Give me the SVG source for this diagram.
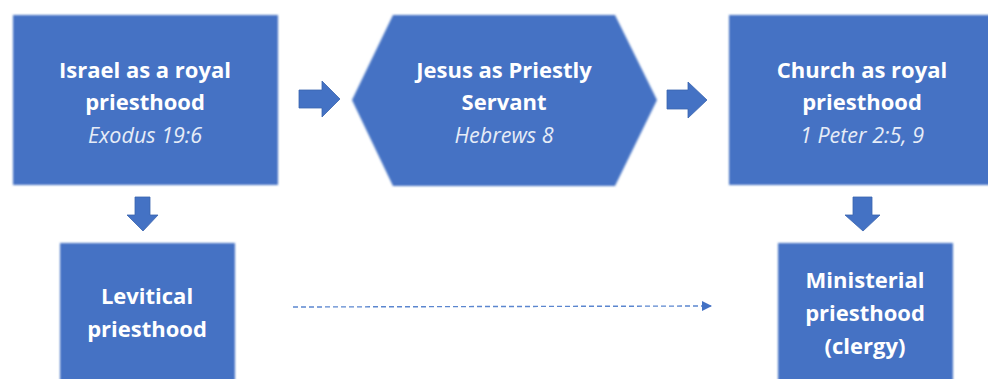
<svg xmlns="http://www.w3.org/2000/svg" width="988" height="379" viewBox="0 0 988 379">
<defs>
<filter id="soft" x="-5%" y="-5%" width="110%" height="110%"><feGaussianBlur stdDeviation="1.2"/></filter>
<marker id="tri" markerWidth="10" markerHeight="10" refX="9" refY="5" orient="auto" markerUnits="userSpaceOnUse"><path d="M0,0 L10,5 L0,10 Z" fill="#4472C4"/></marker>
</defs>
<style>
.shape{fill:#4472C4;filter:url(#soft)}
.arrow{fill:#4472C4;stroke:#3A64AE;stroke-width:0.8}
.t{font-family:"Open Sans",Lato,"Liberation Sans",sans-serif;font-weight:bold;font-size:22px;fill:#ffffff;text-anchor:middle}
.ref{font-family:"Open Sans",Lato,"Liberation Sans",sans-serif;font-style:italic;font-size:21.5px;fill:#E6ECF7;text-anchor:middle}
.dash{fill:none;stroke:#5B86CF;stroke-width:1.4;stroke-dasharray:5 3}
</style>
<rect width="988" height="379" fill="#ffffff"/>
<g id="israel">
<rect class="shape" x="13" y="15" width="265" height="170"/>
<text class="t" x="145" y="78">Israel as a royal</text>
<text class="t" x="145" y="110">priesthood</text>
<text class="ref" x="145" y="143">Exodus 19:6</text>
</g>
<g id="jesus">
<polygon class="shape" points="352,100 393,15 615,15 657,100 615,186 393,186"/>
<text class="t" x="504" y="78">Jesus as Priestly</text>
<text class="t" x="504" y="110">Servant</text>
<text class="ref" x="504" y="143">Hebrews 8</text>
</g>
<g id="church">
<rect class="shape" x="729" y="15" width="266" height="170"/>
<text class="t" x="862" y="78">Church as royal</text>
<text class="t" x="862" y="110">priesthood</text>
<text class="ref" x="862" y="143">1 Peter 2:5, 9</text>
</g>
<g id="levitical">
<rect class="shape" x="60" y="243" width="175" height="145"/>
<text class="t" x="147" y="304">Levitical</text>
<text class="t" x="147" y="337">priesthood</text>
</g>
<g id="ministerial">
<rect class="shape" x="778" y="243" width="175" height="145"/>
<text class="t" x="865" y="288">Ministerial</text>
<text class="t" x="865" y="321">priesthood</text>
<text class="t" x="865" y="354">(clergy)</text>
</g>
<g id="connectors">
<polygon class="arrow" points="299,90 322,90 322,81 340,99 322,117 322,108 299,108"/>
<polygon class="arrow" points="667,90 688,90 688,82 707,100 688,118 688,109 667,109"/>
<polygon class="arrow" points="135,197 150,197 150,215 158,215 143,231 127,215 135,215"/>
<polygon class="arrow" points="853,197 872,197 872,215 880,215 863,231 845,215 853,215"/>
<line class="dash" x1="293" y1="307" x2="711" y2="306" marker-end="url(#tri)"/>
</g>
</svg>
